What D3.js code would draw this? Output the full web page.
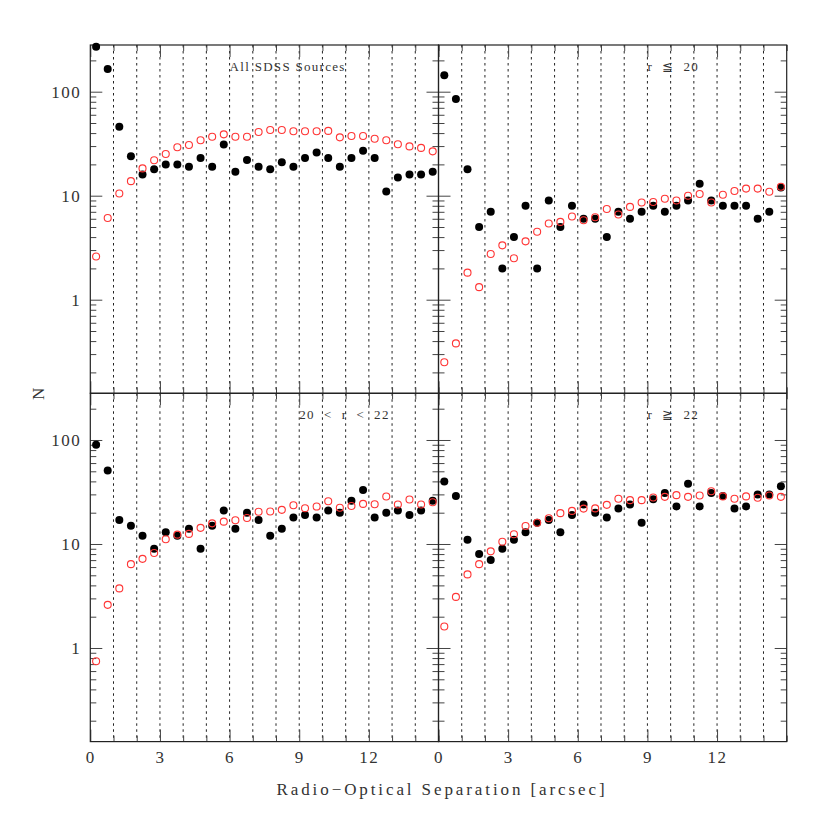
<!DOCTYPE html>
<html>
<head>
<meta charset="utf-8">
<script src="https://d3js.org/d3.v7.min.js"></script>
<style>
  body { margin: 0; background: #fff; }
  .lbl { font-family: "Liberation Serif", serif; fill: #333; letter-spacing: 1.5px; white-space: pre; }
</style>
</head>
<body>
<div id="vis"></div>
<script>
// bin centres, 0.5 arcsec bins
const SEP = [0.25, 0.75, 1.25, 1.75, 2.25, 2.75, 3.25, 3.75, 4.25, 4.75,
             5.25, 5.75, 6.25, 6.75, 7.25, 7.75, 8.25, 8.75, 9.25, 9.75,
             10.25, 10.75, 11.25, 11.75, 12.25, 12.75, 13.25, 13.75, 14.25, 14.75];

// panel titles
const TITLES = ["All SDSS Sources", "r  \u2266  20", "20  <  r  <  22", "r  \u2267  22"];

// observed counts (black dots)
const ALL_OBS = [271, 165, 46, 24, 16, 18, 20, 20, 19, 23, 19, 31, 17, 22, 19,
                 18, 21, 19, 23, 26, 23, 19, 23, 27, 23, 11, 15, 16, 16, 17];
const BRIGHT_OBS = [144, 85, 18, 5, 7, 2, 4, 8, 2, 9, 5, 8, 6, 6, 4,
                    7, 6, 7, 8, 7, 8, 9, 13, 9, 8, 8, 8, 6, 7, 12];
const MID_OBS = [90, 51, 17, 15, 12, 9, 13, 12, 14, 9, 15, 21, 14, 20, 17,
                 12, 14, 18, 19, 18, 21, 20, 26, 33, 18, 20, 21, 19, 21, 26];
const FAINT_OBS = [40, 29, 11, 8, 7, 9, 11, 13, 16, 17, 13, 19, 24, 20, 18,
                   22, 24, 16, 27, 31, 23, 38, 23, 31, 29, 22, 23, 30, 30, 36];

// random-position counts (red circles)
const ALL_RND = [2.6, 6.1, 10.5, 13.8, 18.3, 21.9, 25.2, 29.2, 30.7, 34.1,
                 36.9, 38.9, 36.9, 36.9, 41, 42.8, 42.8, 41.6, 41.6, 41.6,
                 42, 36.4, 37.5, 37.5, 35.3, 34.1, 31.2, 29.8, 28.8, 26.7];
const BRIGHT_RND = [0.25, 0.38, 1.82, 1.32, 2.75, 3.33, 2.5, 3.64, 4.5, 5.4,
                    5.6, 6.3, 5.8, 6.2, 7.45, 6.6, 7.8, 8.6, 8.7, 9.35,
                    9.0, 10, 10.4, 8.6, 10.2, 11.1, 11.7, 11.7, 10.9, 12.2];
const MID_RND = [0.745, 2.6, 3.74, 6.4, 7.2, 8.2, 11.1, 12.3, 12.5, 14.3,
                 15.8, 16.4, 16.9, 17.8, 20.4, 20.5, 21.3, 23.6, 22.1, 22.9,
                 25.8, 22.3, 23.2, 24.3, 24.1, 28.6, 24, 26.8, 24, 25.2];
const FAINT_RND = [1.61, 3.1, 5.1, 6.4, 8.5, 10.5, 12.4, 14.9, 16, 17.7,
                   19.8, 20.8, 21.9, 22, 23.8, 27.2, 26.4, 26.4, 28, 28.4,
                   29.5, 28.4, 29.3, 32.2, 28.7, 27.2, 28.7, 27.8, 29.3, 28.4];

// axis ticks
const X_MAJOR = [0, 3, 6, 9, 12];
const Y_MAJOR = [1, 10, 100];

// frame
const FRAME_WIDTH = 830;
const FRAME_HEIGHT = 830;
const COL_X = [90.3, 438.5];
const ROW_Y = [45, 393.3];
const PANEL_W = 348.2;
const PANEL_H = 348.3;

const FRAME = d3.select("#vis")
                .append("svg")
                  .attr("width", FRAME_WIDTH)
                  .attr("height", FRAME_HEIGHT);

const PANELS = [
  {title: TITLES[0], obs: ALL_OBS, rnd: ALL_RND, col: 0, row: 0, tx: 6},
  {title: TITLES[1], obs: BRIGHT_OBS, rnd: BRIGHT_RND, col: 1, row: 0, tx: 9},
  {title: TITLES[2], obs: MID_OBS, rnd: MID_RND, col: 0, row: 1, tx: 9},
  {title: TITLES[3], obs: FAINT_OBS, rnd: FAINT_RND, col: 1, row: 1, tx: 9}
];

// minor ticks
const X_MINOR = d3.range(0, 16).filter(v => X_MAJOR.indexOf(v) < 0);
const Y_MINOR = [];
[0.1, 1, 10, 100].forEach(d => {
  for (let k = 2; k <= 9; k++) Y_MINOR.push(d * k);
});

PANELS.forEach((p) => {
  const x0 = COL_X[p.col];
  const y0 = ROW_Y[p.row];

  const X = d3.scaleLinear().domain([0, 15]).range([x0, x0 + PANEL_W]);
  const Y = d3.scaleLog().domain([Math.pow(10, -0.9), Math.pow(10, 2.449)])
              .range([y0 + PANEL_H, y0]);
  const yMinor = Y_MINOR.filter(v => v > Y.domain()[0] && v < Y.domain()[1]);

  const g = FRAME.append("g");

  // dotted gridlines at each arcsec
  g.selectAll(".grid")
    .data(d3.range(1, 15))
    .enter()
    .append("line")
      .attr("x1", d => X(d))
      .attr("x2", d => X(d))
      .attr("y1", y0)
      .attr("y2", y0 + PANEL_H)
      .attr("stroke", "#222")
      .attr("stroke-width", 1)
      .attr("stroke-dasharray", "2.5,3.5");

  // ticks on all four sides, pointing inward
  const axes = [
    {ax: d3.axisBottom(X).tickValues(X_MAJOR).tickSize(-12), t: `translate(0,${y0 + PANEL_H})`, lab: p.row == 1},
    {ax: d3.axisBottom(X).tickValues(X_MINOR).tickSize(-6), t: `translate(0,${y0 + PANEL_H})`, lab: false},
    {ax: d3.axisTop(X).tickValues(X_MAJOR).tickSize(-12), t: `translate(0,${y0})`, lab: false},
    {ax: d3.axisTop(X).tickValues(X_MINOR).tickSize(-6), t: `translate(0,${y0})`, lab: false},
    {ax: d3.axisLeft(Y).tickValues(Y_MAJOR).tickSize(-12), t: `translate(${x0},0)`, lab: p.col == 0},
    {ax: d3.axisLeft(Y).tickValues(yMinor).tickSize(-6), t: `translate(${x0},0)`, lab: false},
    {ax: d3.axisRight(Y).tickValues(Y_MAJOR).tickSize(-12), t: `translate(${x0 + PANEL_W},0)`, lab: false},
    {ax: d3.axisRight(Y).tickValues(yMinor).tickSize(-6), t: `translate(${x0 + PANEL_W},0)`, lab: false}
  ];
  axes.forEach((a) => {
    a.ax.tickSizeOuter(0).tickPadding(9);
    if (a.lab) a.ax.tickFormat(d3.format("d"));
    else a.ax.tickFormat("");
    const ag = g.append("g").attr("transform", a.t).call(a.ax);
    ag.select(".domain").remove();
    ag.selectAll("line").attr("stroke", "#444");
    ag.selectAll("text")
      .attr("class", "lbl")
      .style("font-size", "17px")
      .attr("fill", "#333");
  });

  // panel frame
  g.append("rect")
    .attr("x", x0)
    .attr("y", y0)
    .attr("width", PANEL_W)
    .attr("height", PANEL_H)
    .attr("fill", "none")
    .attr("stroke", "#222")
    .attr("stroke-width", 1.2);

  // observed counts
  g.selectAll(".obs")
    .data(p.obs)
    .enter()
    .append("circle")
      .attr("cx", (d, i) => X(SEP[i]))
      .attr("cy", d => Y(d))
      .attr("r", 4)
      .attr("fill", "#000");

  // random counts
  g.selectAll(".rnd")
    .data(p.rnd)
    .enter()
    .append("circle")
      .attr("cx", (d, i) => X(SEP[i]))
      .attr("cy", d => Y(d))
      .attr("r", 3.5)
      .attr("fill", "none")
      .attr("stroke", "#ff3535")
      .attr("stroke-width", 1.1);

  // panel title
  g.append("text")
    .attr("class", "lbl")
    .attr("x", X(p.tx))
    .attr("y", y0 + 26)
    .style("font-size", "13px")
    .style("letter-spacing", "1.3px")
    .text(p.title);
});

// axis titles
FRAME.append("text")
  .attr("class", "lbl")
  .attr("x", 442)
  .attr("y", 795)
  .attr("text-anchor", "middle")
  .style("font-size", "17px")
  .style("letter-spacing", "2.9px")
  .text("Radio\u2212Optical Separation [arcsec]");

FRAME.append("text")
  .attr("class", "lbl")
  .attr("transform", "translate(44,393) rotate(-90)")
  .attr("text-anchor", "middle")
  .style("font-size", "17px")
  .text("N");
</script>
</body>
</html>
